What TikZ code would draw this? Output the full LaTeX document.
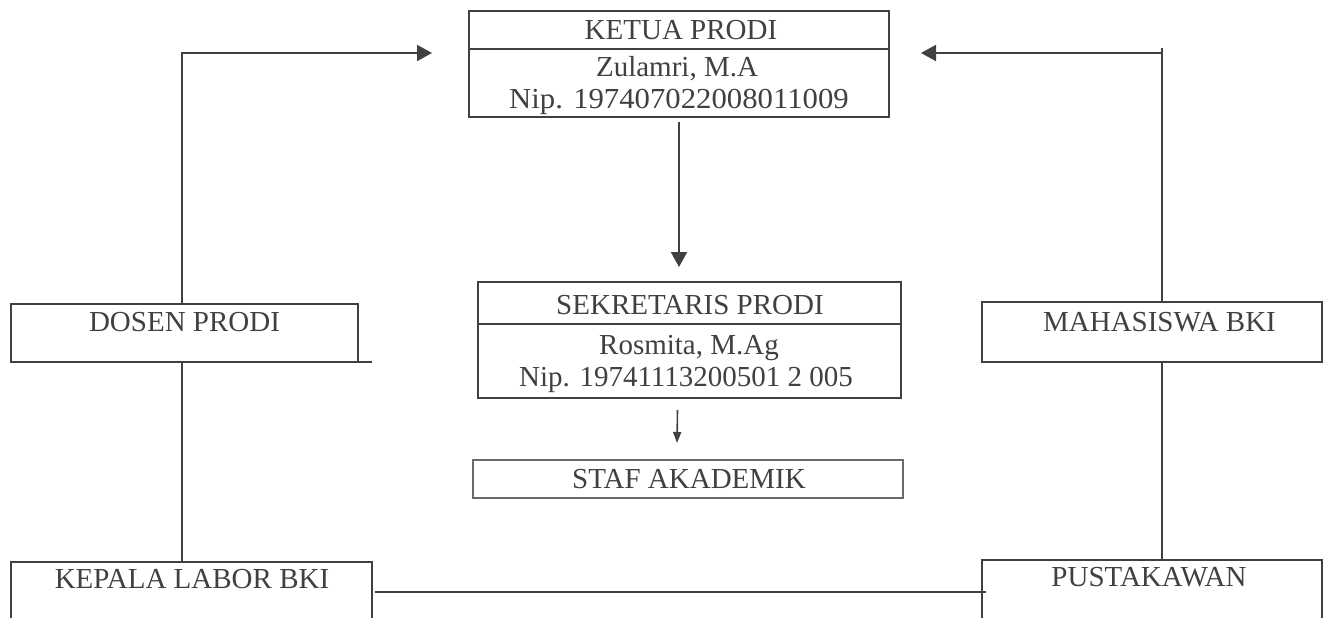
\documentclass[tikz,border=0pt]{standalone}
\usepackage{fontspec}
\setmainfont{Liberation Serif}
\usetikzlibrary{arrows.meta}
\definecolor{ink}{HTML}{404040}
\definecolor{inklight}{HTML}{6A6A6A}
\begin{document}
\begin{tikzpicture}[x=1pt,y=-1pt,
  box/.style={draw=ink,line width=2pt,fill=white,inner sep=0pt,outer sep=0pt,rectangle},
  thinbox/.style={draw=inklight,line width=1.1pt,fill=white,inner sep=0pt,outer sep=0pt,rectangle},
  txt/.style={anchor=base,inner sep=0pt,text=ink,font=\fontsize{29}{32}\selectfont},
  conn/.style={draw=ink,line width=2pt},
  bighead/.style={-{Triangle[length=15pt,width=16pt]}},
  smallhead/.style={-{Triangle[length=11pt,width=8pt]}}]
\useasboundingbox (0,0) rectangle (1327,618);
\clip (0,0) rectangle (1327,618);
\fill[white] (0,0) rectangle (1327,618);

\coordinate (lcorner) at (182,53);
\coordinate (ltip) at (432,53);
\coordinate (rtop) at (1162,48);
\coordinate (rcorner) at (1162,53);
\coordinate (rtip) at (921,53);

% geometry helpers for the bottom boxes
\path node[minimum width=361pt,minimum height=88pt,inner sep=0pt,outer sep=0pt] (kepalaG) at (191.5,606) {};
\path node[minimum width=340pt,minimum height=90pt,inner sep=0pt,outer sep=0pt] (pustG) at (1152,605) {};

% connectors
\draw[conn,bighead] (lcorner |- kepalaG.north) -- (lcorner) -- (ltip);
\draw[conn] (rtop |- pustG.north) -- (rtop);
\draw[conn,bighead] (rcorner) -- (rtip);

% boxes
\node[box,minimum width=420pt,minimum height=38pt] (ketuaT) at (679,30) {};
\node[box,minimum width=420pt,minimum height=68pt] (ketuaB) at (679,83) {};
\node[box,minimum width=423pt,minimum height=42pt] (sekT) at (689.5,303) {};
\node[box,minimum width=423pt,minimum height=74pt] (sekB) at (689.5,361) {};
\node[thinbox,minimum width=430pt,minimum height=38pt] (staf) at (688,479) {};
\node[box,minimum width=347pt,minimum height=58pt] (dosen) at (184.5,333) {};
\node[box,minimum width=340pt,minimum height=60pt] (mhs) at (1152,332) {};
\node[box,minimum width=361pt,minimum height=88pt] (kepala) at (191.5,606) {};
\node[box,minimum width=340pt,minimum height=90pt] (pust) at (1152,605) {};

\draw[conn] (dosen.south east) -- ++(14,0);

% vertical arrows
\draw[conn,bighead] ([yshift=-5pt]ketuaB.south) -- ([yshift=15pt]sekT.north -| ketuaB.south);
\draw[draw=ink,line width=1.6pt,smallhead] ([xshift=-12pt,yshift=-12pt]sekB.south) -- ([xshift=-11pt,yshift=17pt]staf.north);

% bottom connector
\draw[conn] ([xshift=3pt,yshift=-30pt]kepala.north east) -- ([xshift=4pt,yshift=-32pt]pust.north west);

% texts
\node[txt] (tketua) at (681,40) {KETUA PRODI};
\node[txt] (tzul) at (677,76) {Zulamri, M.A};
\node[txt] (tnip1) at (679,108) {\scalebox{1.06}[1]{Nip. 197407022008011009}};
\node[txt] (tsek) at (690,314) {SEKRETARIS PRODI};
\node[txt] (tros) at (689,354) {Rosmita, M.Ag};
\node[txt] (tnip2) at (686,386) {Nip. 19741113200501 2 005};
\node[txt] (tstaf) at (689,488) {STAF AKADEMIK};
\node[txt] (tdosen) at (184.5,331) {DOSEN PRODI};
\node[txt] (tmhs) at (1159.5,331) {MAHASISWA BKI};
\node[txt] (tkepala) at (192,588) {KEPALA LABOR BKI};
\node[txt] (tpust) at (1149,586) {PUSTAKAWAN};
\end{tikzpicture}
\end{document}
